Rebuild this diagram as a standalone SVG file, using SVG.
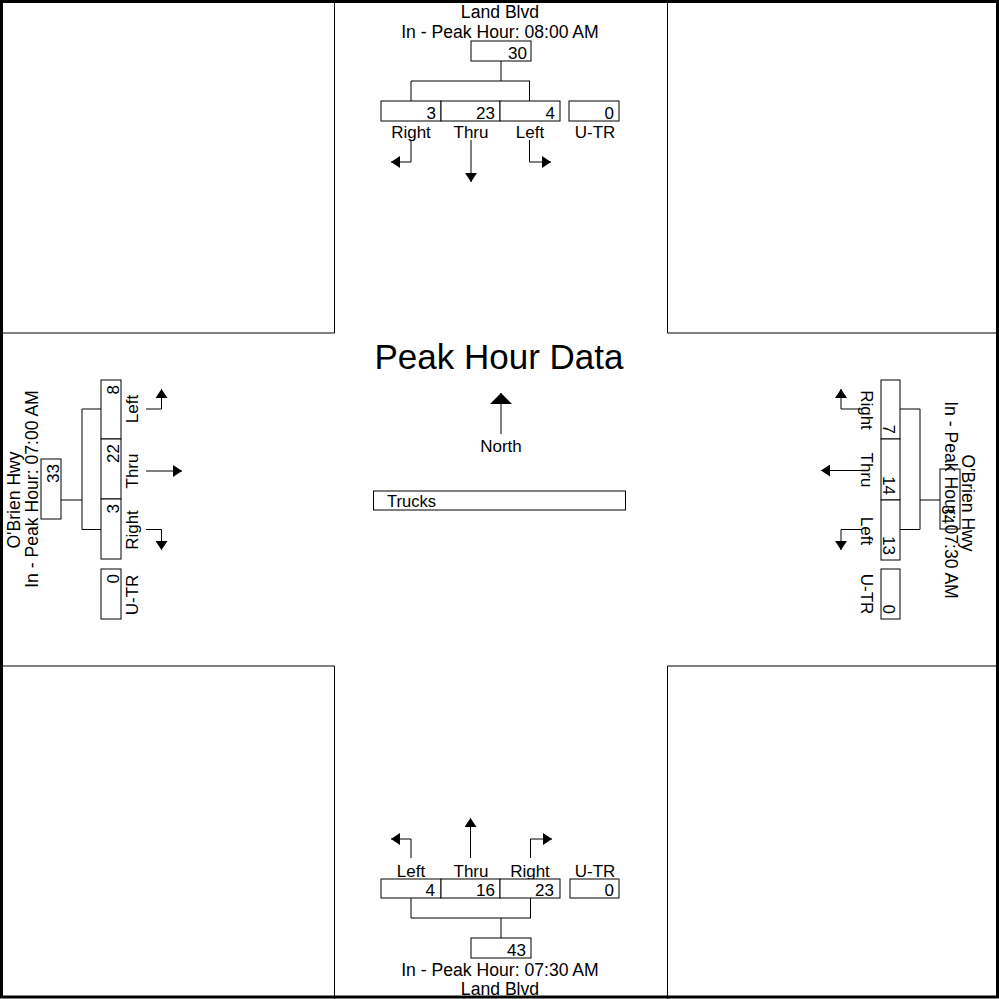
<svg xmlns="http://www.w3.org/2000/svg" width="999" height="999" viewBox="0 0 999 999">
<style>
text{font-family:"Liberation Sans",Arial,sans-serif;font-size:17px;fill:#000}
.t{font-size:17.6px}
.m{text-anchor:middle}
.e{text-anchor:end}
.b{fill:#fff;stroke:#000;stroke-width:1}
.ln{fill:none;stroke:#000;stroke-width:1}
.ar{fill:none;stroke:#000;stroke-width:1;marker-end:url(#ah)}
</style>
<defs>
<marker id="ah" viewBox="0 0 10 10" refX="10" refY="5" markerUnits="userSpaceOnUse" markerWidth="9" markerHeight="12" orient="auto" preserveAspectRatio="none"><path d="M0,0 L10,5 L0,10 z" fill="#000"/></marker>
<marker id="nh" viewBox="0 0 10 10" refX="10" refY="5" markerUnits="userSpaceOnUse" markerWidth="11" markerHeight="22" orient="auto" preserveAspectRatio="none"><path d="M0,0 L10,5 L0,10 z" fill="#000"/></marker>
</defs>
<rect x="0" y="0" width="999" height="999" fill="#fff"/>
<g id="frame">
<path class="ln" d="M0,333 H334.5 V0 M667.5,0 V333 H999 M0,666 H334.5 V999 M667.5,999 V666 H999"/>
<rect x="1.5" y="1.5" width="996" height="995.5" fill="none" stroke="#000" stroke-width="3"/>
</g>
<g id="connectors">
<path class="ln" d="M501,61 V81 M411,81 H530 M411,81 V101 M529.5,81 V101"/>
<path class="ar" d="M411,140 V162 H391"/>
<path class="ar" d="M471,140 V182"/>
<path class="ar" d="M529.5,140 V162 H551"/>
<path class="ln" d="M411,898 V918 H531 M530.5,898 V918 M501,918 V938"/>
<path class="ar" d="M411,858 V839 H391"/>
<path class="ar" d="M470.5,858 V818"/>
<path class="ar" d="M530.5,858 V839 H552"/>
<path class="ln" d="M61,500 H82 M82,409 V529.5 M82,409 H101 M82,529.5 H101"/>
<path class="ar" d="M146,409 H161.5 V389"/>
<path class="ar" d="M146,471 H182"/>
<path class="ar" d="M146,529.5 H161.5 V550"/>
<path class="ln" d="M900,409 H920 M900,529.5 H920 M920,409 V529.5 M920,500 H940"/>
<path class="ar" d="M862,409 H841 V389"/>
<path class="ar" d="M862,470.5 H821"/>
<path class="ar" d="M862,529.5 H841 V550"/>
<path d="M501,434 V393" fill="none" stroke="#000" stroke-width="1" marker-end="url(#nh)"/>
</g>
<g id="north-approach">
<text class="m t" x="500" y="18">Land Blvd</text>
<text class="m t" x="500" y="38">In - Peak Hour: 08:00 AM</text>
<rect class="b" x="471" y="41" width="60" height="20"/><text class="e" x="527" y="59">30</text>
<rect class="b" x="381" y="101" width="60" height="20"/><text class="e" x="436" y="119">3</text>
<rect class="b" x="441" y="101" width="59" height="20"/><text class="e" x="495" y="119">23</text>
<rect class="b" x="500" y="101" width="60" height="20"/><text class="e" x="555" y="119">4</text>
<rect class="b" x="569" y="101" width="50" height="20"/><text class="e" x="614" y="119">0</text>
<text class="m" x="411" y="138">Right</text>
<text class="m" x="471" y="138">Thru</text>
<text class="m" x="530" y="138">Left</text>
<text class="m" x="595" y="138">U-TR</text>
</g>
<g id="south-approach">
<text class="m" x="411" y="877">Left</text>
<text class="m" x="471" y="877">Thru</text>
<text class="m" x="530" y="877">Right</text>
<text class="m" x="595" y="877">U-TR</text>
<rect class="b" x="381" y="879" width="60" height="19"/><text class="e" x="435" y="896">4</text>
<rect class="b" x="441" y="879" width="59" height="19"/><text class="e" x="495" y="896">16</text>
<rect class="b" x="500" y="879" width="60" height="19"/><text class="e" x="554" y="896">23</text>
<rect class="b" x="570" y="879" width="49" height="19"/><text class="e" x="614" y="896">0</text>
<rect class="b" x="471" y="938" width="60" height="20"/><text class="e" x="526" y="956">43</text>
<text class="m t" x="500" y="976">In - Peak Hour: 07:30 AM</text>
<text class="m t" x="500" y="995">Land Blvd</text>
</g>
<g id="west-approach">
<text class="m t" transform="translate(20,500) rotate(-90)">O'Brien Hwy</text>
<text class="m t" transform="translate(38,489) rotate(-90)">In - Peak Hour: 07:00 AM</text>
<rect class="b" x="41" y="459" width="20" height="60"/><text class="e" transform="translate(59,464) rotate(-90)">33</text>
<rect class="b" x="101" y="380" width="20" height="59"/><text class="e" transform="translate(119,385) rotate(-90)">8</text>
<rect class="b" x="101" y="439" width="20" height="60"/><text class="e" transform="translate(119,444) rotate(-90)">22</text>
<rect class="b" x="101" y="499" width="20" height="60"/><text class="e" transform="translate(119,504) rotate(-90)">3</text>
<rect class="b" x="101" y="569" width="20" height="50"/><text class="e" transform="translate(119,574) rotate(-90)">0</text>
<text class="m" transform="translate(138,409) rotate(-90)">Left</text>
<text class="m" transform="translate(138,471) rotate(-90)">Thru</text>
<text class="m" transform="translate(138,530) rotate(-90)">Right</text>
<text class="m" transform="translate(138,595) rotate(-90)">U-TR</text>
</g>
<g id="east-approach">
<text class="m t" transform="translate(962,503) rotate(90)">O'Brien Hwy</text>
<text class="m t" transform="translate(945,500) rotate(90)">In - Peak Hour: 07:30 AM</text>
<rect class="b" x="940" y="469" width="20" height="60" fill-opacity="0"/><text class="e" transform="translate(942,524) rotate(90)">34</text>
<rect class="b" x="881" y="380" width="19" height="59"/><text class="e" transform="translate(883,434) rotate(90)">7</text>
<rect class="b" x="881" y="439" width="19" height="61"/><text class="e" transform="translate(883,495) rotate(90)">14</text>
<rect class="b" x="881" y="500" width="19" height="60"/><text class="e" transform="translate(883,555) rotate(90)">13</text>
<rect class="b" x="881" y="569" width="19" height="50"/><text class="e" transform="translate(883,614) rotate(90)">0</text>
<text class="m" transform="translate(861,410) rotate(90)">Right</text>
<text class="m" transform="translate(861,470) rotate(90)">Thru</text>
<text class="m" transform="translate(861,531) rotate(90)">Left</text>
<text class="m" transform="translate(861,594) rotate(90)">U-TR</text>
</g>
<g id="center">
<text class="m" x="499" y="369" style="font-size:35px">Peak Hour Data</text>
<text class="m" x="501" y="452">North</text>
<rect class="b" x="373.5" y="491" width="252" height="19"/>
<text x="387" y="507" style="font-size:16.5px">Trucks</text>
</g>
</svg>
